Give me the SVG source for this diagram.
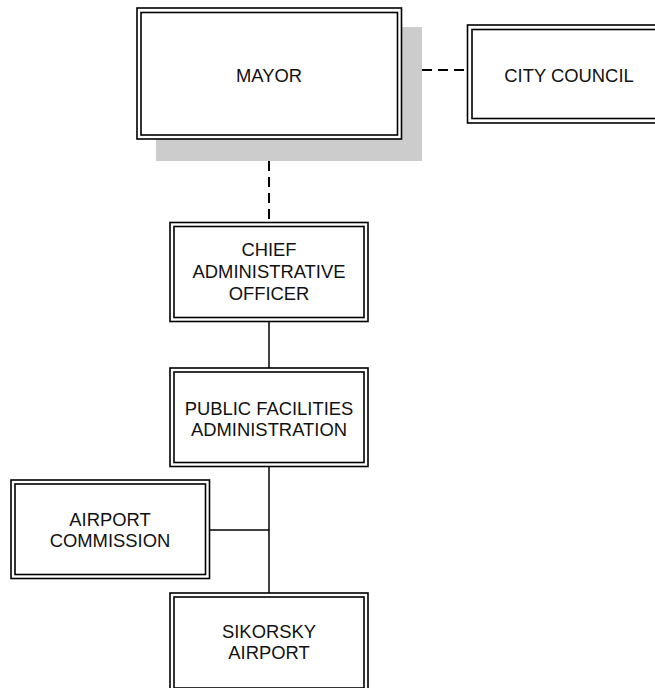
<svg xmlns="http://www.w3.org/2000/svg" width="655" height="688" viewBox="0 0 655 688">
<style>
.o{fill:#fff;stroke:#000;stroke-width:1.6}
.i{fill:none;stroke:#000;stroke-width:1.6}
.t{font-family:"Liberation Sans",Arial,sans-serif;font-size:18.4px;fill:#111;text-anchor:middle}
.d{stroke:#000;stroke-width:2;stroke-dasharray:10 6;fill:none}
.s{stroke:#000;stroke-width:1.5;fill:none}
</style>
<rect width="655" height="688" fill="#fff"/>
<g id="connectors">
<line class="d" x1="422" y1="70" x2="467" y2="70"/>
<line class="d" x1="269" y1="161" x2="269" y2="222"/>
<line class="s" x1="269" y1="322" x2="269" y2="368"/>
<line class="s" x1="269" y1="467" x2="269" y2="593"/>
<line class="s" x1="210" y1="530" x2="269" y2="530"/>
</g>
<g id="mayor">
<rect x="156" y="27" width="266" height="134" fill="#cccccc"/>
<rect class="o" x="137" y="8" width="264.5" height="131"/>
<rect class="i" x="141" y="12.5" width="256.5" height="122.5"/>
<text class="t" x="269" y="82">MAYOR</text>
</g>
<g id="city-council">
<rect class="o" x="467.5" y="25" width="200" height="98"/>
<rect class="i" x="472" y="29.5" width="191" height="89"/>
<text class="t" x="569" y="82">CITY COUNCIL</text>
</g>
<g id="cao">
<rect class="o" x="170" y="222.5" width="198" height="99"/>
<rect class="i" x="174" y="226.5" width="190" height="91"/>
<text class="t" x="269" y="256">CHIEF</text>
<text class="t" x="269" y="278">ADMINISTRATIVE</text>
<text class="t" x="269" y="300">OFFICER</text>
</g>
<g id="pfa">
<rect class="o" x="170" y="368" width="198" height="98.5"/>
<rect class="i" x="174" y="372" width="190" height="90.5"/>
<text class="t" x="269" y="415">PUBLIC FACILITIES</text>
<text class="t" x="269" y="436">ADMINISTRATION</text>
</g>
<g id="airport-commission">
<rect class="o" x="11" y="480" width="198.5" height="98.5"/>
<rect class="i" x="15" y="484" width="190.5" height="90.5"/>
<text class="t" x="110" y="526">AIRPORT</text>
<text class="t" x="110" y="547">COMMISSION</text>
</g>
<g id="sikorsky">
<rect class="o" x="170" y="593" width="198" height="99"/>
<rect class="i" x="174" y="597" width="190" height="91"/>
<text class="t" x="269" y="638">SIKORSKY</text>
<text class="t" x="269" y="659">AIRPORT</text>
</g>
</svg>
